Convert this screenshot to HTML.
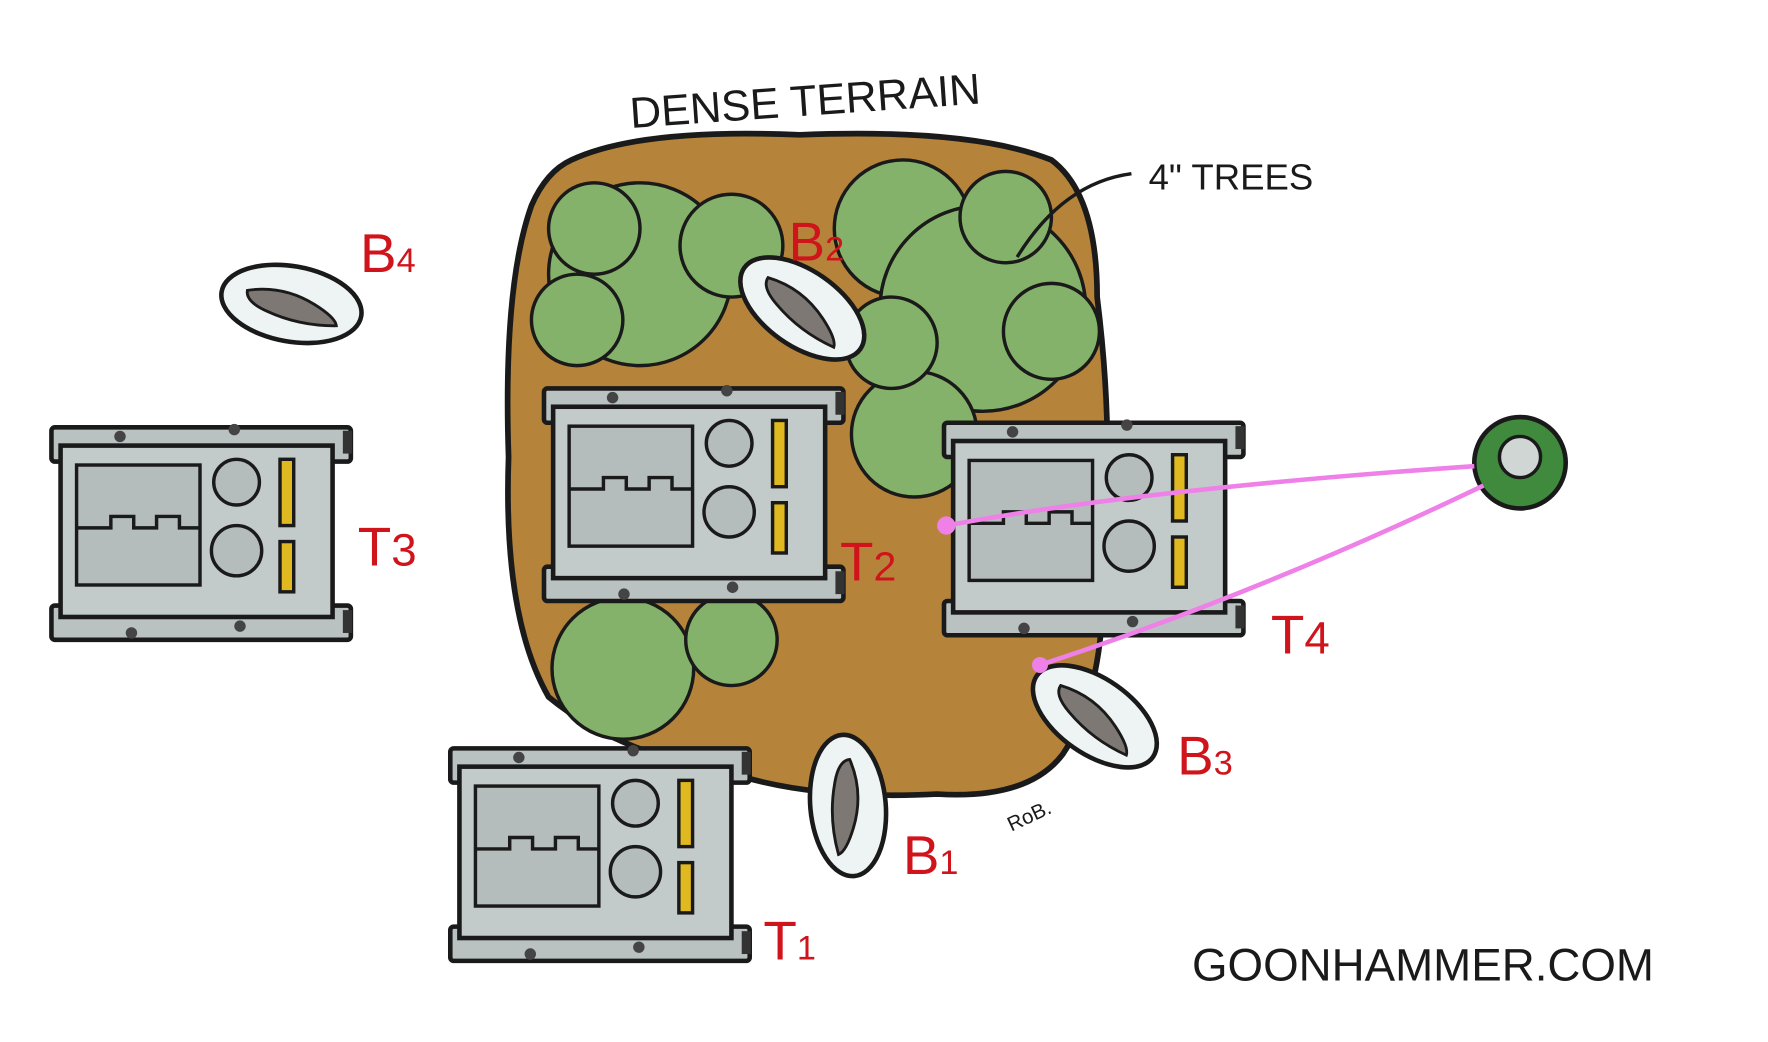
<!DOCTYPE html>
<html><head><meta charset="utf-8"><style>
html,body{margin:0;padding:0;background:#fff;}
svg{display:block}
text{font-family:"Liberation Sans",sans-serif;}
</style></head><body>
<svg width="1768" height="1042" viewBox="0 0 1547 912" preserveAspectRatio="none" xmlns="http://www.w3.org/2000/svg">
<defs>
<g id="tank">
  <rect x="0" y="12" width="262" height="30" rx="3" fill="#b9c1c1" stroke="#1a1a1a" stroke-width="4"/>
  <rect x="0" y="168" width="262" height="30" rx="3" fill="#b9c1c1" stroke="#1a1a1a" stroke-width="4"/>
  <rect x="8" y="28" width="238" height="150" fill="#c3cbca" stroke="#1a1a1a" stroke-width="4"/>
  <rect x="22" y="45" width="108" height="105" fill="#b4bcbc" stroke="#1a1a1a" stroke-width="3"/>
  <path d="M22 100 h30 v-10 h20 v10 h20 v-10 h20 v10 h18" fill="none" stroke="#1a1a1a" stroke-width="3"/>
  <circle cx="162" cy="60" r="20" fill="#b4bcbc" stroke="#1a1a1a" stroke-width="3"/>
  <circle cx="162" cy="120" r="22" fill="#b4bcbc" stroke="#1a1a1a" stroke-width="3"/>
  <rect x="200" y="40" width="12" height="58" fill="#e0b820" stroke="#1a1a1a" stroke-width="3"/>
  <rect x="200" y="112" width="12" height="44" fill="#e0b820" stroke="#1a1a1a" stroke-width="3"/>
  <circle cx="60" cy="20" r="5" fill="#444"/><circle cx="160" cy="14" r="5" fill="#444"/>
  <circle cx="70" cy="192" r="5" fill="#444"/><circle cx="165" cy="186" r="5" fill="#444"/>
  <rect x="255" y="15" width="8" height="20" fill="#333"/><rect x="255" y="172" width="8" height="20" fill="#333"/>
</g>
<g id="base">
  <ellipse cx="0" cy="0" rx="62" ry="33" fill="#eef3f3" stroke="#1a1a1a" stroke-width="4"/>
  <path d="M-40 -5 Q-10 -15 20 -3 Q40 5 42 12 Q10 18 -20 10 Q-40 5 -40 -5Z" fill="#7e7874" stroke="#1a1a1a" stroke-width="2.5"/>
</g>
</defs>
<path d="M500 140 Q560 112 700 118 Q850 112 920 140 Q960 170 960 260 Q975 380 965 480 Q970 600 930 660 Q900 700 820 695 Q720 700 650 680 Q540 660 480 610 Q440 540 445 400 Q440 250 465 180 Q478 150 500 140Z" fill="#b5843a" stroke="#1a1a1a" stroke-width="5"/>
<g fill="#85b26a" stroke="#1a1a1a" stroke-width="3">
  <circle cx="560" cy="240" r="80"/><circle cx="640" cy="215" r="45"/><circle cx="505" cy="280" r="40"/>
  <circle cx="790" cy="200" r="60"/><circle cx="860" cy="270" r="90"/><circle cx="800" cy="380" r="55"/><circle cx="880" cy="190" r="40"/>
  <circle cx="545" cy="585" r="62"/><circle cx="640" cy="560" r="40"/>
  <circle cx="920" cy="290" r="42"/><circle cx="780" cy="300" r="40"/><circle cx="520" cy="200" r="40"/>
</g>
<use href="#tank" x="45" y="362"/>
<use href="#tank" x="476" y="328"/>
<use href="#tank" x="826" y="358"/>
<use href="#tank" x="394" y="643"/>
<use href="#base" transform="translate(255 266) rotate(10)"/>
<use href="#base" transform="translate(702 270) rotate(35)"/>
<use href="#base" transform="translate(958 627) rotate(35)"/>
<use href="#base" transform="translate(742 705) rotate(85)"/>
<circle cx="1330" cy="405" r="40" fill="#3f8a3c" stroke="#1a1a1a" stroke-width="4"/>
<circle cx="1330" cy="400" r="18" fill="#cfd6d4" stroke="#1a1a1a" stroke-width="3"/>
<path d="M828 460 Q1000 428 1290 408" fill="none" stroke="#ee80e8" stroke-width="4"/>
<path d="M910 582 Q1100 520 1298 425" fill="none" stroke="#ee80e8" stroke-width="4"/>
<circle cx="828" cy="460" r="8" fill="#ee80e8"/><circle cx="910" cy="582" r="7" fill="#ee80e8"/>
<path d="M890 225 Q930 160 990 152" fill="none" stroke="#1a1a1a" stroke-width="3"/>
<g fill="#1a1a1a">
  <text x="552" y="112" font-size="38" transform="rotate(-4 552 112)">DENSE TERRAIN</text>
  <text x="1005" y="166" font-size="32">4" TREES</text>
  <text x="1043" y="858" font-size="40">GOONHAMMER.COM</text>
  <text x="885" y="728" font-size="18" transform="rotate(-25 885 728)">RoB.</text>
</g>
<g fill="#d0141c" font-size="48">
  <text x="315" y="238">B<tspan font-size="30">4</tspan></text>
  <text x="690" y="228">B<tspan font-size="30">2</tspan></text>
  <text x="1030" y="678">B<tspan font-size="30">3</tspan></text>
  <text x="790" y="765">B<tspan font-size="30">1</tspan></text>
  <text x="313" y="495">T<tspan font-size="40">3</tspan></text>
  <text x="735" y="508">T<tspan font-size="36">2</tspan></text>
  <text x="1112" y="572">T<tspan font-size="40">4</tspan></text>
  <text x="668" y="840">T<tspan font-size="30">1</tspan></text>
</g>
</svg>
</body></html>
